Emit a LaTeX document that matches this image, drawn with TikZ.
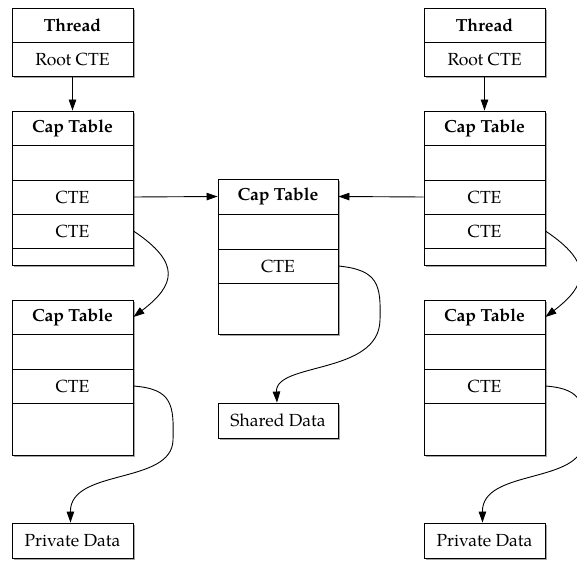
\documentclass[tikz,border=0pt]{standalone}
\usepackage{fontspec}
\setmainfont{texgyrepagella}[Extension=.otf, UprightFont=*-regular, BoldFont=*-bold, ItalicFont=*-italic, BoldItalicFont=*-bolditalic]
\usetikzlibrary{arrows.meta,shadows}
\begin{document}
\begin{tikzpicture}[x=1pt,y=-1pt,
  every node/.style={font=\fontsize{17.5}{21}\selectfont},
  cell/.style={draw, line width=0.9pt, fill=white, inner sep=0pt, minimum width=121pt,
    drop shadow={shadow xshift=1.8pt, shadow yshift=-1.8pt, fill=black!35, opacity=1}},
  arr/.style={line width=0.9pt, -{Triangle[length=11pt,width=7.5pt]}}
]
\useasboundingbox (0,0) rectangle (577,561);
\clip (0,0) rectangle (577,561);
% ---------- left column ----------
\node[cell, minimum height=34pt] (lth) at (72.5,25) {\textbf{Thread}};
\node[cell, minimum height=34pt] (ltr) at (72.5,59) {Root CTE};
\node[cell, minimum height=34pt] (lah) at (72.5,128) {\textbf{Cap Table}};
\node[cell, minimum height=35pt] (la1) at (72.5,162.5) {};
\node[cell, minimum height=34pt] (la2) at (72.5,197) {CTE};
\node[cell, minimum height=34pt] (la3) at (72.5,231) {CTE};
\node[cell, minimum height=17pt] (la4) at (72.5,256.5) {};
\node[cell, minimum height=34pt] (lbh) at (72.5,317) {\textbf{Cap Table}};
\node[cell, minimum height=35pt] (lb1) at (72.5,351.5) {};
\node[cell, minimum height=34pt] (lb2) at (72.5,386) {CTE};
\node[cell, minimum height=52pt] (lb3) at (72.5,429) {};
\node[cell, minimum height=35pt] (lpd) at (72.5,540.5) {Private Data};
% ---------- middle column ----------
\node[cell, minimum width=120pt, minimum height=35pt] (mah) at (278,196.5) {\textbf{Cap Table}};
\node[cell, minimum width=120pt, minimum height=35pt] (ma1) at (278,231.5) {};
\node[cell, minimum width=120pt, minimum height=34pt] (ma2) at (278,266) {CTE};
\node[cell, minimum width=120pt, minimum height=51pt] (ma3) at (278,308.5) {};
\node[cell, minimum width=120pt, minimum height=35pt] (msd) at (278,420.5) {Shared Data};
% ---------- right column ----------
\node[cell, minimum height=34pt] (rth) at (484.5,25) {\textbf{Thread}};
\node[cell, minimum height=34pt] (rtr) at (484.5,59) {Root CTE};
\node[cell, minimum height=34pt] (rah) at (484.5,128) {\textbf{Cap Table}};
\node[cell, minimum height=35pt] (ra1) at (484.5,162.5) {};
\node[cell, minimum height=34pt] (ra2) at (484.5,197) {CTE};
\node[cell, minimum height=34pt] (ra3) at (484.5,231) {CTE};
\node[cell, minimum height=17pt] (ra4) at (484.5,256.5) {};
\node[cell, minimum height=34pt] (rbh) at (484.5,317) {\textbf{Cap Table}};
\node[cell, minimum height=35pt] (rb1) at (484.5,351.5) {};
\node[cell, minimum height=34pt] (rb2) at (484.5,386) {CTE};
\node[cell, minimum height=52pt] (rb3) at (484.5,429) {};
\node[cell, minimum height=35pt] (rpd) at (484.5,540.5) {Private Data};
% ---------- connectors ----------
\draw[arr] (ltr.south) -- (lah.north);
\draw[arr] (rtr.south) -- (rah.north);
\draw[arr] (la2.east) -- (mah.west);
\draw[arr] (ra2.west) -- (mah.east);
\draw[arr] (la3.east) .. controls +(48,32) and +(42,-32) .. (lbh.east);
\draw[arr] (ra3.east) .. controls +(48,32) and +(42,-32) .. (rbh.east);
\draw[arr] (lb2.east) .. controls +(39,3) and +(1,-35) .. (173,440)
  .. controls (172,485) and (70,468) .. ([xshift=-2pt]lpd.north);
\draw[arr] (rb2.east) .. controls +(39,3) and +(1,-35) .. (584,440)
  .. controls (583,485) and (482,468) .. ([xshift=-2pt]rpd.north);
\draw[arr] (ma2.east) .. controls +(40,4) and +(1,-35) .. (380,320)
  .. controls (379,375) and (275,362) .. ([xshift=-1pt]msd.north);
\end{tikzpicture}
\end{document}
